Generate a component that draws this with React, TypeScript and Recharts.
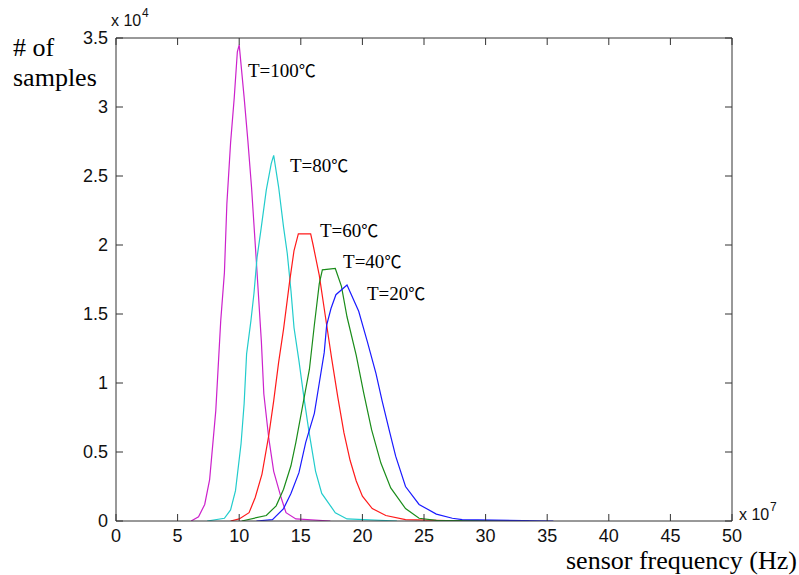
import React from 'react';
import { LineChart, Line, XAxis, YAxis, ReferenceDot } from 'recharts';

// x in units of 1e7 Hz, y in units of 1e4 samples
const t100Freq = [6.1, 6.7, 7.2, 7.6, 8.1, 8.5, 8.8, 9.0, 9.3, 9.6, 9.85, 10.0, 10.4, 10.7, 11.0, 11.4, 11.8, 12.0, 12.4, 12.8, 13.4, 13.8, 14.6, 17.4];
const t100Count = [0, 0.03, 0.12, 0.3, 0.8, 1.45, 1.8, 2.3, 2.74, 3.07, 3.4, 3.45, 3.07, 2.76, 2.42, 1.87, 1.3, 0.92, 0.6, 0.36, 0.17, 0.06, 0.015, 0];

const t80Freq = [7.4, 8.8, 9.3, 9.7, 10.15, 10.4, 10.6, 10.95, 11.2, 11.45, 11.75, 12.2, 12.6, 12.8, 13.2, 13.6, 13.9, 14.2, 14.45, 14.85, 15.26, 15.66, 16.2, 16.7, 17.8, 18.75, 22.8];
const t80Count = [0, 0.02, 0.08, 0.22, 0.56, 0.85, 1.21, 1.45, 1.65, 1.91, 2.1, 2.4, 2.59, 2.65, 2.42, 2.13, 1.94, 1.67, 1.4, 1.16, 0.89, 0.65, 0.36, 0.2, 0.06, 0.015, 0];

const t60Freq = [9.3, 10.0, 10.8, 11.3, 11.85, 12.4, 12.8, 13.2, 13.6, 13.9, 14.1, 14.45, 14.8, 15.8, 16.0, 16.5, 17.0, 17.5, 18.0, 18.5, 19.0, 19.5, 20.0, 20.8, 21.9, 23.5, 28.5];
const t60Count = [0, 0.015, 0.06, 0.17, 0.34, 0.62, 0.87, 1.15, 1.39, 1.6, 1.74, 1.96, 2.08, 2.08, 2.0, 1.78, 1.48, 1.18, 0.9, 0.64, 0.44, 0.29, 0.18, 0.09, 0.04, 0.01, 0];

const t40Freq = [10.2, 12.2, 13.0, 13.6, 14.2, 14.6, 15.1, 15.7, 16.1, 16.5, 16.75, 17.8, 18.3, 18.75, 19.5, 20.1, 20.75, 21.5, 22.3, 23.5, 24.6, 26.0, 33.5];
const t40Count = [0, 0.04, 0.11, 0.23, 0.4, 0.57, 0.81, 1.1, 1.42, 1.72, 1.82, 1.83, 1.7, 1.48, 1.2, 0.93, 0.66, 0.42, 0.24, 0.09, 0.02, 0.005, 0];

const t20Freq = [11.4, 12.7, 13.6, 14.2, 14.85, 15.4, 16.1, 16.5, 16.9, 17.1, 17.45, 17.85, 18.75, 19.7, 20.4, 21.1, 21.6, 22.2, 22.7, 23.5, 24.6, 26.0, 27.3, 28.1, 35.5];
const t20Count = [0, 0.01, 0.09, 0.2, 0.35, 0.57, 0.78, 1.0, 1.22, 1.42, 1.54, 1.64, 1.71, 1.52, 1.3, 1.07, 0.87, 0.65, 0.47, 0.25, 0.12, 0.05, 0.02, 0.01, 0];

const xTicks = [0, 5, 10, 15, 20, 25, 30, 35, 40, 45, 50];
const yTicks = [0, 0.5, 1, 1.5, 2, 2.5, 3, 3.5];

const labelText = ['T=100', 'T=80', 'T=60', 'T=40', 'T=20'];
const labelUnit = '℃';
const labelX = [10.71, 14.12, 16.56, 18.43, 20.37];
const labelY = [3.22, 2.53, 2.06, 1.83, 1.6];

const colors = ['#cc22cc', '#22cccc', '#ff1a1a', '#1a8c1a', '#1a1aff'];

const build = (f: number[], c: number[]) => f.map((x, i) => ({ f: x, v: c[i] }));
const series = [
  build(t100Freq, t100Count),
  build(t80Freq, t80Count),
  build(t60Freq, t60Count),
  build(t40Freq, t40Count),
  build(t20Freq, t20Count),
];

const W = 799;
const H = 575;
const M = { top: 37, right: 66, bottom: 53, left: 115 };
const AX = '#333';
const TICK_FONT = "'Liberation Sans Narrow', 'Liberation Sans', Arial, sans-serif";
const SERIF = "'Liberation Serif', 'Times New Roman', serif";
const CJK = "'Noto Sans CJK SC', 'Liberation Serif', serif";

const fmtY = (v: number) => (Number.isInteger(v) ? String(v) : v.toFixed(1));

const BottomTick = (p: any) => (
  <g>
    <line x1={p.x} y1={p.y} x2={p.x} y2={p.y - 7} stroke={AX} strokeWidth={1} />
    <text x={p.x} y={p.y + 21} textAnchor="middle" fontFamily={TICK_FONT} fontSize={18} fill="#111">
      {p.payload.value}
    </text>
  </g>
);
const TopTick = (p: any) => (
  <line x1={p.x} y1={p.y} x2={p.x} y2={p.y + 7} stroke={AX} strokeWidth={1} />
);
const LeftTick = (p: any) => (
  <g>
    <line x1={p.x} y1={p.y} x2={p.x + 7} y2={p.y} stroke={AX} strokeWidth={1} />
    <text x={p.x - 8} y={p.y + 6} textAnchor="end" fontFamily={TICK_FONT} fontSize={18} fill="#111">
      {fmtY(p.payload.value)}
    </text>
  </g>
);
const RightTick = (p: any) => (
  <line x1={p.x} y1={p.y} x2={p.x - 7} y2={p.y} stroke={AX} strokeWidth={1} />
);

export default function App() {
  return (
    <div style={{ position: 'absolute', left: 0, top: 0, width: W, height: H, background: '#fff' }}>
      <LineChart width={W} height={H} margin={M}>
        <XAxis
          xAxisId="b"
          type="number"
          dataKey="f"
          domain={[0, 50]}
          ticks={xTicks}
          interval={0}
          height={1}
          tickSize={0}
          tickMargin={0}
          tickLine={false}
          axisLine={{ stroke: AX }}
          tick={BottomTick}
          allowDataOverflow
        />
        <XAxis
          xAxisId="t"
          orientation="top"
          type="number"
          dataKey="f"
          domain={[0, 50]}
          ticks={xTicks}
          interval={0}
          height={1}
          tickSize={0}
          tickMargin={0}
          tickLine={false}
          axisLine={{ stroke: AX }}
          tick={TopTick}
          allowDataOverflow
        />
        <YAxis
          yAxisId="l"
          type="number"
          domain={[0, 3.5]}
          ticks={yTicks}
          interval={0}
          width={1}
          tickSize={0}
          tickMargin={0}
          tickLine={false}
          axisLine={{ stroke: AX }}
          tick={LeftTick}
          allowDataOverflow
        />
        <YAxis
          yAxisId="r"
          orientation="right"
          type="number"
          domain={[0, 3.5]}
          ticks={yTicks}
          interval={0}
          width={1}
          tickSize={0}
          tickMargin={0}
          tickLine={false}
          axisLine={{ stroke: AX }}
          tick={RightTick}
          allowDataOverflow
        />
        {series.map((d, i) => (
          <Line
            key={i}
            xAxisId="b"
            yAxisId="l"
            data={d}
            dataKey="v"
            type="linear"
            stroke={colors[i]}
            strokeWidth={1.2}
            dot={false}
            activeDot={false}
            isAnimationActive={false}
          />
        ))}
        {labelText.map((t, i) => (
          <ReferenceDot
            key={t}
            xAxisId="b"
            yAxisId="l"
            x={labelX[i]}
            y={labelY[i]}
            r={0}
            fill="none"
            stroke="none"
            label={{
              content: (p: any) => (
                <text x={p.viewBox.x} y={p.viewBox.y} fontFamily={SERIF} fontSize={19} fill="#000">
                  {t}
                  <tspan fontFamily={CJK} fontSize={17}>
                    {labelUnit}
                  </tspan>
                </text>
              ),
            }}
          />
        ))}
      </LineChart>
      <svg
        width={W}
        height={H}
        style={{ position: 'absolute', left: 0, top: 0, pointerEvents: 'none' }}
      >
        <text x={13} y={56} fontFamily={SERIF} fontSize={26} fill="#000">
          # of
        </text>
        <text x={13} y={86} fontFamily={SERIF} fontSize={26} fill="#000">
          samples
        </text>
        <text x={111} y={26} fontFamily={TICK_FONT} fontSize={16} fill="#111">
          x 10
        </text>
        <text x={142} y={17} fontFamily={TICK_FONT} fontSize={12} fill="#111">
          4
        </text>
        <text x={739} y={520} fontFamily={TICK_FONT} fontSize={16} fill="#111">
          x 10
        </text>
        <text x={770} y={511} fontFamily={TICK_FONT} fontSize={12} fill="#111">
          7
        </text>
        <text x={797} y={569} textAnchor="end" fontFamily={SERIF} fontSize={26} fill="#000">
          sensor frequency (Hz)
        </text>
      </svg>
    </div>
  );
}
